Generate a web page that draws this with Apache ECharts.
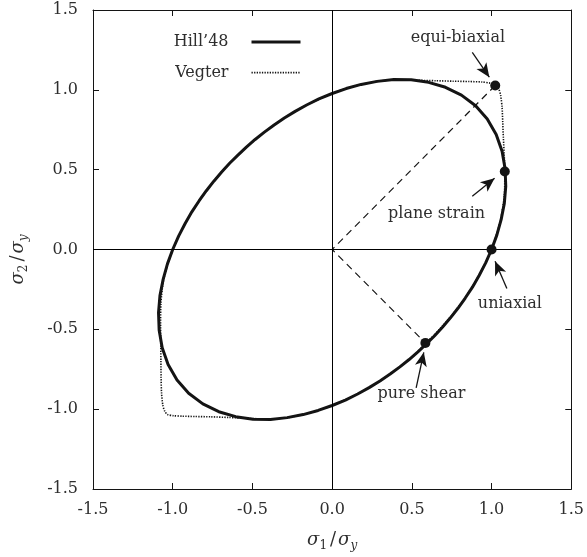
<!DOCTYPE html>
<html>
<head>
<meta charset="utf-8">
<script src="https://cdn.jsdelivr.net/npm/echarts@6/dist/echarts.min.js"></script>
<style>
  html, body { margin: 0; padding: 0; background: #fff; }
  #chart { width: 587px; height: 557px; }
</style>
</head>
<body>
<div id="chart"></div>
<script>
// Axis ticks (both axes share the same range)
const tickValues = [-1.5, -1.0, -0.5, 0.0, 0.5, 1.0, 1.5];
const tickLabels = ['-1.5', '-1.0', '-0.5', '0.0', '0.5', '1.0', '1.5'];

// Hill'48 yield locus, normalised stresses [sigma1/sy, sigma2/sy]
const hill48 = [
  [0.591, -0.591], [0.643, -0.540], [0.693, -0.485], [0.742, -0.428], [0.789, -0.368],
  [0.835, -0.304], [0.880, -0.236], [0.922, -0.163], [0.963, -0.084],
  [1.000, 0.000], [1.033, 0.090], [1.060, 0.187], [1.080, 0.289], [1.089, 0.396],
  [1.085, 0.506], [1.066, 0.615], [1.029, 0.720], [0.973, 0.817], [0.900, 0.900],
  [0.811, 0.967], [0.711, 1.016], [0.605, 1.047], [0.496, 1.063], [0.387, 1.064],
  [0.282, 1.053], [0.182, 1.034], [0.088, 1.008], [0.000, 0.977], [-0.083, 0.943],
  [-0.160, 0.905], [-0.232, 0.865], [-0.300, 0.823], [-0.364, 0.780], [-0.425, 0.735],
  [-0.483, 0.689], [-0.538, 0.641], [-0.591, 0.591], [-0.643, 0.540], [-0.693, 0.485],
  [-0.742, 0.428], [-0.789, 0.368], [-0.835, 0.304], [-0.880, 0.236], [-0.922, 0.163],
  [-0.963, 0.084], [-1.000, 0.000], [-1.033, -0.090], [-1.060, -0.187], [-1.080, -0.289],
  [-1.089, -0.396], [-1.085, -0.506], [-1.066, -0.615], [-1.029, -0.720], [-0.973, -0.817],
  [-0.900, -0.900], [-0.811, -0.967], [-0.711, -1.016], [-0.605, -1.047], [-0.496, -1.063],
  [-0.387, -1.064], [-0.282, -1.053], [-0.182, -1.034], [-0.088, -1.008], [0.000, -0.977],
  [0.083, -0.943], [0.160, -0.905], [0.232, -0.865], [0.300, -0.823], [0.364, -0.780],
  [0.425, -0.735], [0.483, -0.689], [0.538, -0.641], [0.591, -0.591]
];

// Vegter yield locus
const vegter = [
  [0.585, -0.585], [0.640, -0.536], [0.740, -0.425], [0.835, -0.302], [0.920, -0.162],
  [1.000, 0.000], [1.055, 0.180], [1.080, 0.340], [1.083, 0.488], [1.079, 0.600],
  [1.074, 0.700], [1.070, 0.800], [1.066, 0.890], [1.057, 0.965], [1.045, 1.005],
  [1.023, 1.027], [0.990, 1.042], [0.940, 1.049], [0.860, 1.052], [0.760, 1.054],
  [0.650, 1.057], [0.520, 1.060], [0.387, 1.062], [0.282, 1.053], [0.182, 1.034],
  [0.088, 1.008], [0.000, 0.977], [-0.160, 0.905], [-0.300, 0.823],
  [-0.425, 0.735], [-0.538, 0.641], [-0.643, 0.540], [-0.742, 0.428], [-0.835, 0.304],
  [-0.922, 0.163], [-1.000, 0.000], [-1.055, -0.180], [-1.074, -0.340], [-1.076, -0.480],
  [-1.075, -0.600], [-1.074, -0.700], [-1.073, -0.800], [-1.070, -0.900], [-1.062, -0.975],
  [-1.050, -1.013], [-1.033, -1.033], [-0.995, -1.041], [-0.940, -1.044], [-0.860, -1.046],
  [-0.760, -1.048], [-0.650, -1.052], [-0.520, -1.058], [-0.387, -1.062], [-0.282, -1.053],
  [-0.182, -1.034], [-0.088, -1.008], [0.000, -0.977], [0.160, -0.905],
  [0.300, -0.823], [0.425, -0.735], [0.538, -0.641], [0.585, -0.585]
];

// Vegter reference points
const refNames = ['equi-biaxial', 'plane strain', 'uniaxial', 'pure shear'];
const refX = [1.023, 1.083, 1.000, 0.585];
const refY = [1.027, 0.488, 0.000, -0.585];

const FONT = 'DejaVu Serif';
const INK = '#141414';
const TEXT = '#2e2e2e';

// Annotation layout (data units): label centre, arrow tail and arrow head
const annotations = [
  { text: refNames[0], at: [0.789, 1.326], from: [0.879, 1.235], to: [0.986, 1.079] },
  { text: refNames[1], at: [0.655, 0.222], from: [0.879, 0.334], to: [1.019, 0.446] },
  { text: refNames[2], at: [1.115, -0.339], from: [1.096, -0.245], to: [1.022, -0.073] },
  { text: refNames[3], at: [0.560, -0.904], from: [0.527, -0.866], to: [0.575, -0.644] }
];

const refPoints = refX.map((x, i) => [x, refY[i]]);
// rays from the origin to the equi-biaxial and pure-shear points
const rays = [refPoints[0], [0, 0], refPoints[3]];

function tickText(v) {
  const i = tickValues.findIndex(t => Math.abs(t - v) < 1e-6);
  return i >= 0 ? tickLabels[i] : '';
}

const mathRich = {
  i: { fontFamily: FONT, fontStyle: 'italic', fontSize: 18, lineHeight: 24, verticalAlign: 'middle', color: TEXT },
  n: { fontFamily: FONT, fontSize: 18, lineHeight: 24, verticalAlign: 'middle', color: TEXT, padding: [0, 2, 0, 3] },
  sub: { fontFamily: FONT, fontSize: 12, lineHeight: 15, verticalAlign: 'bottom', color: TEXT },
  subi: { fontFamily: FONT, fontStyle: 'italic', fontSize: 12, lineHeight: 15, verticalAlign: 'bottom', color: TEXT }
};

function makeAxis(dim, position, withLabels) {
  const ax = {
    type: 'value',
    position: position,
    min: tickValues[0],
    max: tickValues[tickValues.length - 1],
    interval: 0.5,
    axisLine: { show: true, onZero: false, lineStyle: { color: INK, width: 1 } },
    axisTick: { show: true, inside: true, length: 6, lineStyle: { color: INK, width: 1 } },
    axisLabel: {
      show: withLabels,
      margin: dim === 'x' ? 13 : 15,
      fontFamily: FONT,
      fontSize: 16,
      color: TEXT,
      formatter: tickText
    },
    splitLine: { show: false }
  };
  if (withLabels) {
    ax.nameLocation = 'middle';
    ax.nameTextStyle = { rich: mathRich };
    if (dim === 'x') {
      ax.name = '{i|σ}{sub|1}{n|/}{i|σ}{subi|y}';
      ax.nameGap = 39;
    } else {
      ax.name = '{i|σ}{sub|2}{n|/}{i|σ}{subi|y}';
      ax.nameGap = 63;
      ax.nameRotate = 90;
      ax.nameTextStyle = { rich: mathRich, padding: [0, 20, 0, 0] };
    }
  }
  return ax;
}

const DOT_STYLE = [1.3, 1.3];

const chart = echarts.init(document.getElementById('chart'), null, { renderer: 'canvas' });

chart.setOption({
  animation: false,
  backgroundColor: '#ffffff',
  color: [INK, INK, INK, INK, INK],
  grid: { left: 93, right: 11, top: 10, bottom: 66 },
  legend: {
    orient: 'vertical',
    align: 'right',
    right: 285,
    top: 34,
    padding: 0,
    itemWidth: 49,
    itemHeight: 14,
    itemGap: 14.6,
    selectedMode: false,
    textStyle: { fontFamily: FONT, fontSize: 16, color: TEXT, padding: [0, 18, 0, 0] },
    data: [
      { name: 'Hill’48', itemStyle: { opacity: 0 }, lineStyle: { width: 3, color: INK } },
      { name: 'Vegter', itemStyle: { opacity: 0 }, lineStyle: { width: 1.6, color: INK, type: DOT_STYLE } }
    ]
  },
  xAxis: [makeAxis('x', 'bottom', true), makeAxis('x', 'top', false)],
  yAxis: [makeAxis('y', 'left', true), makeAxis('y', 'right', false)],
  series: [
    {
      name: 'axes-cross',
      type: 'line',
      data: [],
      silent: true,
      markLine: {
        silent: true,
        symbol: 'none',
        animation: false,
        label: { show: false },
        lineStyle: { color: '#000', width: 1, type: 'solid' },
        data: [{ xAxis: 0 }, { yAxis: 0 }]
      }
    },
    {
      name: 'rays',
      type: 'line',
      data: rays,
      symbol: 'none',
      silent: true,
      lineStyle: { color: INK, width: 1.2, type: [7, 5] },
      z: 2
    },
    {
      name: 'Vegter',
      type: 'line',
      data: vegter,
      symbol: 'none',
      smooth: 0.25,
      silent: true,
      itemStyle: { color: INK },
      lineStyle: { color: INK, width: 1.6, type: DOT_STYLE },
      z: 3
    },
    {
      name: 'Hill’48',
      type: 'line',
      data: hill48,
      symbol: 'none',
      smooth: false,
      silent: true,
      itemStyle: { color: INK },
      lineStyle: { color: INK, width: 3, join: 'round' },
      z: 4
    },
    {
      name: 'reference points',
      type: 'scatter',
      data: refPoints,
      symbol: 'circle',
      symbolSize: 10,
      itemStyle: { color: INK, opacity: 1 },
      silent: true,
      z: 6,
      markLine: {
        silent: true,
        animation: false,
        symbol: ['none', 'arrow'],
        symbolSize: [9, 14],
        label: { show: false },
        lineStyle: { color: INK, width: 1.3, type: 'solid' },
        data: annotations.map(a => [{ coord: a.from }, { coord: a.to }])
      }
    }
  ]
});

// Annotation labels placed through the grid's coordinate system
chart.setOption({
  graphic: annotations.map(a => {
    const p = chart.convertToPixel({ gridIndex: 0 }, a.at);
    return {
      type: 'text',
      x: p[0],
      y: p[1],
      silent: true,
      z: 10,
      style: {
        text: a.text,
        fontFamily: FONT,
        fontSize: 16,
        fill: TEXT,
        align: 'center',
        verticalAlign: 'middle'
      }
    };
  })
});
</script>
</body>
</html>
